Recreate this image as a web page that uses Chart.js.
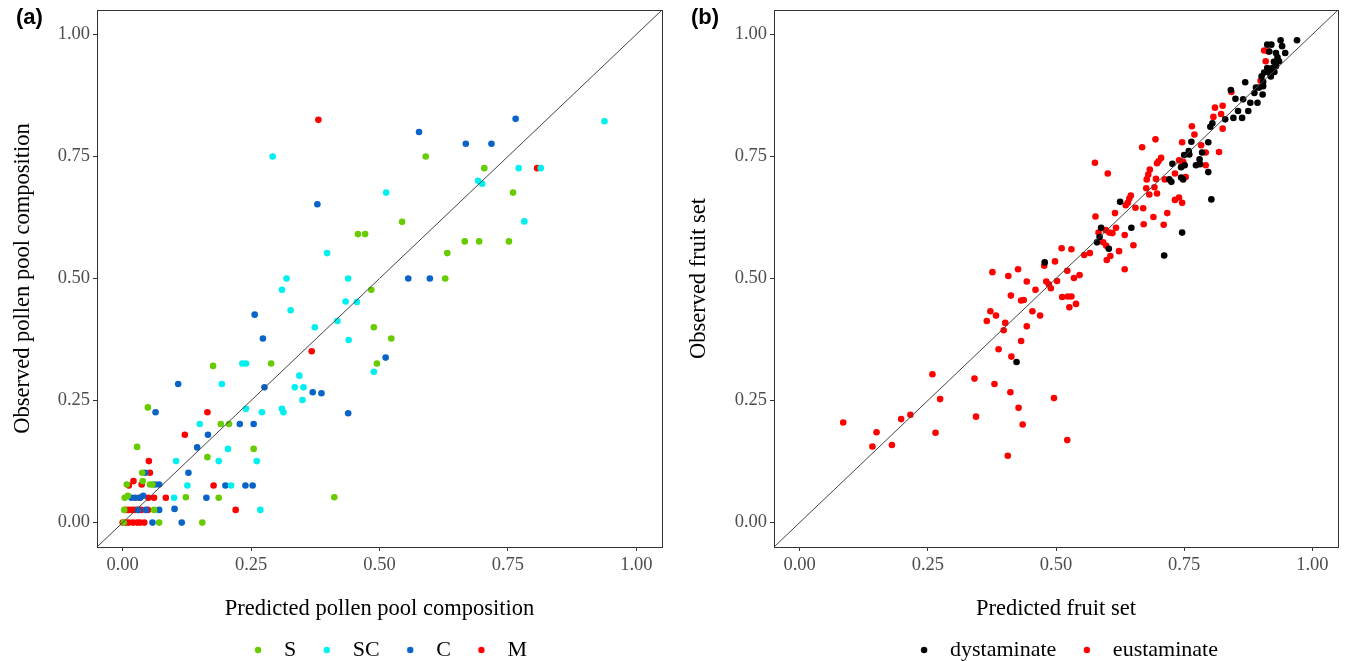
<!DOCTYPE html>
<html>
<head>
<meta charset="utf-8">
<script src="https://cdn.jsdelivr.net/npm/chart.js@4"></script>
<style>
  body { margin: 0; background: #fff; width: 1346px; height: 661px; position: relative; overflow: hidden; }
  canvas { position: absolute; top: 0; }
  #c1 { left: 0; }
  #c2 { left: 673px; }
  .tag { position: absolute; top: 6px; font: bold 22px "Liberation Sans", Arial, sans-serif; line-height: 1; color: #000; }
</style>
</head>
<body>
<canvas id="c1" width="673" height="661"></canvas>
<canvas id="c2" width="673" height="661"></canvas>
<div class="tag" style="left:16px">(a)</div>
<div class="tag" style="left:691px">(b)</div>
<script>
// axis ticks shared by both panels
const tickValues = [0, 0.25, 0.5, 0.75, 1];
const tickLabels = ['0.00', '0.25', '0.50', '0.75', '1.00'];
const diagLine = [-0.05, 1.05];

// panel (a): predicted vs observed pollen pool composition
const sPts = [[0.590,0.750],[0.704,0.726],[0.760,0.676],[0.544,0.616],[0.458,0.591],[0.472,0.591],[0.666,0.576],[0.694,0.576],[0.752,0.576],[0.632,0.552],[0.628,0.500],[0.484,0.477],[0.489,0.400],[0.523,0.377],[0.176,0.321],[0.289,0.326],[0.495,0.326],[0.049,0.236],[0.191,0.202],[0.207,0.202],[0.255,0.151],[0.028,0.155],[0.165,0.134],[0.038,0.102],[0.123,0.052],[0.187,0.051],[0.412,0.052],[0.008,0.078],[0.039,0.085],[0.053,0.078],[0.058,0.078],[0.004,0.051],[0.010,0.055],[0.003,0.026],[0.061,0.026],[0.071,0.000],[0.155,0.000],[0.002,0.000]];
const scPts = [[0.938,0.822],[0.292,0.750],[0.771,0.726],[0.814,0.726],[0.692,0.700],[0.700,0.694],[0.513,0.676],[0.782,0.617],[0.398,0.552],[0.319,0.500],[0.439,0.500],[0.310,0.477],[0.434,0.453],[0.456,0.452],[0.327,0.435],[0.418,0.413],[0.374,0.400],[0.440,0.374],[0.233,0.326],[0.240,0.326],[0.489,0.309],[0.344,0.301],[0.193,0.284],[0.335,0.277],[0.352,0.277],[0.350,0.251],[0.240,0.233],[0.271,0.226],[0.310,0.233],[0.313,0.226],[0.150,0.202],[0.205,0.151],[0.187,0.126],[0.261,0.126],[0.104,0.126],[0.126,0.076],[0.211,0.076],[0.100,0.051],[0.268,0.026]];
const cPts = [[0.765,0.827],[0.577,0.800],[0.668,0.776],[0.718,0.776],[0.379,0.652],[0.556,0.500],[0.598,0.500],[0.257,0.426],[0.273,0.377],[0.512,0.338],[0.108,0.284],[0.276,0.277],[0.370,0.267],[0.387,0.265],[0.064,0.226],[0.439,0.224],[0.228,0.202],[0.255,0.202],[0.166,0.180],[0.145,0.154],[0.128,0.102],[0.044,0.102],[0.200,0.076],[0.239,0.076],[0.253,0.076],[0.063,0.078],[0.071,0.078],[0.163,0.051],[0.017,0.051],[0.024,0.051],[0.034,0.051],[0.040,0.055],[0.030,0.026],[0.045,0.026],[0.071,0.026],[0.101,0.028],[0.058,0.000],[0.115,0.000]];
const mPts = [[0.381,0.825],[0.807,0.726],[0.368,0.351],[0.165,0.226],[0.121,0.180],[0.051,0.126],[0.053,0.102],[0.177,0.076],[0.220,0.026],[0.084,0.051],[0.021,0.085],[0.012,0.076],[0.037,0.078],[0.032,0.051],[0.050,0.051],[0.061,0.051],[0.049,0.026],[0.006,0.026],[0.012,0.026],[0.018,0.026],[0.024,0.026],[0.030,0.026],[0.036,0.026],[0.000,0.000],[0.006,0.000],[0.012,0.000],[0.020,0.000],[0.028,0.000],[0.034,0.000],[0.042,0.000]];

// panel (b): predicted vs observed fruit set
const dyPts = [[0.938,0.988],[0.970,0.988],[0.912,0.979],[0.920,0.979],[0.941,0.976],[0.916,0.965],[0.929,0.962],[0.947,0.962],[0.932,0.953],[0.925,0.944],[0.935,0.945],[0.929,0.935],[0.912,0.931],[0.922,0.931],[0.906,0.922],[0.917,0.921],[0.926,0.923],[0.901,0.914],[0.919,0.914],[0.904,0.903],[0.869,0.902],[0.890,0.891],[0.896,0.891],[0.904,0.894],[0.841,0.886],[0.887,0.880],[0.903,0.877],[0.850,0.868],[0.865,0.867],[0.879,0.860],[0.893,0.860],[0.855,0.843],[0.875,0.843],[0.846,0.829],[0.863,0.829],[0.830,0.826],[0.801,0.811],[0.805,0.818],[0.764,0.780],[0.797,0.779],[0.750,0.753],[0.759,0.761],[0.760,0.754],[0.785,0.758],[0.780,0.744],[0.781,0.734],[0.773,0.732],[0.727,0.735],[0.751,0.732],[0.744,0.728],[0.797,0.718],[0.721,0.703],[0.725,0.698],[0.744,0.707],[0.748,0.703],[0.803,0.662],[0.625,0.657],[0.588,0.604],[0.585,0.585],[0.580,0.574],[0.603,0.561],[0.647,0.604],[0.746,0.594],[0.711,0.547],[0.478,0.533],[0.423,0.329]];
const euPts = [[0.906,0.967],[0.914,0.965],[0.909,0.945],[0.899,0.905],[0.842,0.882],[0.825,0.854],[0.810,0.850],[0.807,0.831],[0.822,0.837],[0.765,0.812],[0.825,0.807],[0.770,0.795],[0.694,0.785],[0.746,0.779],[0.668,0.769],[0.783,0.773],[0.818,0.759],[0.792,0.758],[0.576,0.737],[0.705,0.747],[0.700,0.740],[0.697,0.736],[0.740,0.742],[0.748,0.739],[0.745,0.730],[0.792,0.732],[0.601,0.715],[0.683,0.723],[0.680,0.713],[0.732,0.715],[0.753,0.708],[0.677,0.703],[0.695,0.704],[0.712,0.703],[0.676,0.685],[0.692,0.687],[0.646,0.670],[0.643,0.664],[0.640,0.655],[0.636,0.650],[0.682,0.672],[0.697,0.674],[0.655,0.645],[0.670,0.644],[0.732,0.661],[0.740,0.666],[0.746,0.655],[0.717,0.634],[0.690,0.626],[0.615,0.634],[0.577,0.627],[0.671,0.611],[0.710,0.610],[0.617,0.604],[0.597,0.599],[0.604,0.594],[0.610,0.593],[0.634,0.589],[0.583,0.594],[0.592,0.574],[0.598,0.567],[0.651,0.568],[0.606,0.546],[0.623,0.556],[0.599,0.538],[0.634,0.519],[0.511,0.562],[0.530,0.560],[0.555,0.548],[0.566,0.552],[0.498,0.535],[0.477,0.526],[0.376,0.513],[0.426,0.519],[0.407,0.505],[0.522,0.516],[0.443,0.494],[0.481,0.494],[0.486,0.488],[0.502,0.495],[0.535,0.501],[0.546,0.507],[0.460,0.477],[0.490,0.480],[0.412,0.465],[0.432,0.455],[0.437,0.456],[0.512,0.462],[0.523,0.463],[0.530,0.463],[0.526,0.441],[0.539,0.448],[0.372,0.433],[0.383,0.424],[0.454,0.433],[0.469,0.424],[0.365,0.413],[0.401,0.409],[0.443,0.402],[0.398,0.394],[0.432,0.372],[0.388,0.355],[0.413,0.340],[0.259,0.304],[0.341,0.295],[0.380,0.284],[0.411,0.267],[0.274,0.253],[0.496,0.255],[0.427,0.235],[0.198,0.212],[0.216,0.221],[0.344,0.217],[0.435,0.201],[0.265,0.184],[0.522,0.169],[0.180,0.159],[0.406,0.137],[0.085,0.205],[0.150,0.185],[0.142,0.156]];

Chart.defaults.font.family = '"Liberation Serif", "Times New Roman", serif';

// small round legend key, drawn at its own size
function dot(color) {
  const c = document.createElement('canvas');
  c.width = 8; c.height = 8;
  const g = c.getContext('2d');
  g.fillStyle = color;
  g.beginPath(); g.arc(4, 4, 3.2, 0, Math.PI * 2); g.fill();
  return c;
}
const baseLabels = Chart.defaults.plugins.legend.labels.generateLabels;

// panel frame + legend nudge
const framePlugin = {
  id: 'frame',
  afterLayout(chart, args, opts) {
    const lg = chart.legend;
    if (lg && opts.shift) { lg.left += opts.shift; lg.right += opts.shift; }
  },
  afterDatasetsDraw(chart) {
    const a = chart.chartArea, ctx = chart.ctx;
    ctx.save();
    ctx.strokeStyle = '#333333';
    ctx.lineWidth = 1;
    ctx.strokeRect(Math.round(a.left) + 0.5, Math.round(a.top) + 0.5, Math.round(a.right - a.left), Math.round(a.bottom - a.top));
    ctx.restore();
  }
};

function panel(id, series, xTitle, yTitle, yWidth, padRight, yTitlePad, shift) {
  const sets = [{
    type: 'line', label: 'diag',
    data: diagLine.map(v => ({ x: v, y: v })),
    borderColor: '#444444', borderWidth: 1, pointRadius: 0, fill: false
  }];
  series.forEach(s => sets.push({
    label: s.name,
    data: s.pts.map(p => ({ x: p[0], y: p[1] })),
    backgroundColor: s.color, borderWidth: 0, pointRadius: 3.3, pointHoverRadius: 3.3
  }));
  const tickOpts = {
    callback: v => tickLabels[tickValues.indexOf(v)],
    color: '#4d4d4d', font: { size: 18.5 }, padding: 3, autoSkip: false, maxRotation: 0
  };
  const gridOpts = { drawOnChartArea: false, drawTicks: true, tickLength: 4, color: '#333333' };
  return new Chart(document.getElementById(id), {
    type: 'scatter',
    data: { datasets: sets },
    plugins: [framePlugin],
    options: {
      responsive: false,
      animation: false,
      layout: { padding: { top: 10, right: padRight, left: 0, bottom: 0 } },
      scales: {
        x: {
          type: 'linear', min: -0.05, max: 1.05,
          afterBuildTicks: s => { s.ticks = tickValues.map(v => ({ value: v })); },
          afterFit: s => { s.height = 76.5; s.paddingLeft = 0; s.paddingRight = 0; },
          grid: gridOpts, border: { display: false }, ticks: tickOpts,
          title: { display: true, text: xTitle, color: '#000', font: { size: 22.5, lineHeight: 1 }, padding: { top: 0, bottom: 3.5 } }
        },
        y: {
          type: 'linear', min: -0.05, max: 1.05,
          afterBuildTicks: s => { s.ticks = tickValues.map(v => ({ value: v })); },
          afterFit: s => { s.width = yWidth; s.paddingTop = 0; s.paddingBottom = 0; },
          grid: gridOpts, border: { display: false }, ticks: tickOpts,
          title: { display: true, text: yTitle, color: '#000', font: { size: 22.5, lineHeight: 1 }, padding: { top: yTitlePad, bottom: 0 } }
        }
      },
      plugins: {
        frame: { shift: shift },
        tooltip: { enabled: false },
        legend: {
          position: 'bottom', fullSize: false, maxHeight: 37.5,
          labels: {
            usePointStyle: true, pointStyleWidth: 30, boxHeight: 4.4,
            padding: 15.5, color: '#000', font: { size: 22 },
            generateLabels: chart => baseLabels(chart).map(it => { it.pointStyle = dot(it.fillStyle); return it; }),
            filter: it => it.datasetIndex > 0
          }
        }
      }
    }
  });
}

panel('c1', [
  { name: 'S', pts: sPts, color: '#66cc00' },
  { name: 'SC', pts: scPts, color: '#00f0f0' },
  { name: 'C', pts: cPts, color: '#0a64c8' },
  { name: 'M', pts: mPts, color: '#ff0000' }
], 'Predicted pollen pool composition', 'Observed pollen pool composition', 97, 11, 11.5, 5.5);

panel('c2', [
  { name: 'dystaminate', pts: dyPts, color: '#000000' },
  { name: 'eustaminate', pts: euPts, color: '#ff0000' }
], 'Predicted fruit set', 'Observed fruit set', 101, 8, 15, 7.5);
</script>
</body>
</html>
